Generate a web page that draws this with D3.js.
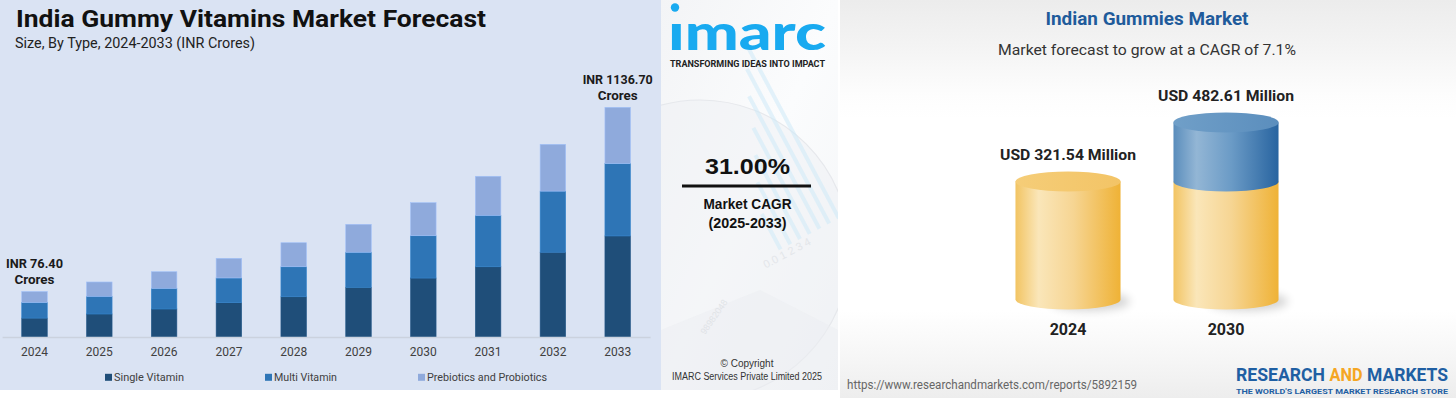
<!DOCTYPE html>
<html>
<head>
<meta charset="utf-8">
<script src="https://cdn.jsdelivr.net/npm/d3@7"></script>
<style>
  html, body { margin: 0; padding: 0; background: #ffffff; }
  svg { display: block; }
</style>
</head>
<body>
<svg id="chart" width="1456" height="398"></svg>
<script>
// ---------------- DATA ----------------
// Left chart: India Gummy Vitamins Market (INR Crores), by type
const years = ["2024", "2025", "2026", "2027", "2028", "2029", "2030", "2031", "2032", "2033"];
const seriesNames = ["Single Vitamin", "Multi Vitamin", "Prebiotics and Probiotics"];
const singleVitamin = [31.8, 43.9, 59.9, 83.1, 110.0, 153.0, 204.0, 273.9, 373.2, 500.1];
const multiVitamin  = [26.3, 33.8, 44.3, 59.9, 82.0, 107.9, 146.4, 200.6, 268.9, 358.1];
const prebiotics    = [18.3, 27.3, 35.5, 47.7, 65.7, 86.0, 114.3, 152.3, 206.1, 278.5];
const endLabels = [
  { year: "2024", lines: ["INR 76.40", "Crores"] },
  { year: "2033", lines: ["INR 1136.70", "Crores"] }
];
const cagrValue = "31.00%";
const cagrLines = ["Market CAGR", "(2025-2033)"];

// Right chart: Indian Gummies Market (USD Million)
const cylYears = ["2024", "2030"];
const cylValues = [321.54, 482.61];
const cylLabels = ["USD 321.54 Million", "USD 482.61 Million"];

// ---------------- DRAW ----------------
const svg = d3.select("#chart");
const defs = svg.append("defs");

// ===== Left panel =====
svg.append("rect").attr("x", 0).attr("y", 0).attr("width", 661).attr("height", 390).attr("fill", "#dae3f3");

svg.append("text").attr("x", 16).attr("y", 26.5)
  .attr("font-family", "Roboto, 'Liberation Sans', sans-serif").attr("font-weight", 700)
  .attr("font-size", 23.5).attr("fill", "#111")
  .attr("textLength", 470).attr("lengthAdjust", "spacingAndGlyphs")
  .text("India Gummy Vitamins Market Forecast");
svg.append("text").attr("x", 15).attr("y", 48.3)
  .attr("font-family", "Roboto, 'Liberation Sans', sans-serif")
  .attr("font-size", 14).attr("fill", "#222")
  .attr("textLength", 240).attr("lengthAdjust", "spacingAndGlyphs")
  .text("Size, By Type, 2024-2033 (INR Crores)");

const baseline = 337;
const colors = ["#1f4e79", "#2e75b6", "#8faadc"];
const rows = years.map((y, i) => ({
  year: y,
  [seriesNames[0]]: singleVitamin[i],
  [seriesNames[1]]: multiVitamin[i],
  [seriesNames[2]]: prebiotics[i]
}));
const totals = rows.map(r => seriesNames.reduce((s, k) => s + r[k], 0));
const maxTotal = d3.max(totals);

const x = d3.scaleBand().domain(years).range([2.1, 650.1]).paddingInner(0.606).paddingOuter(0.303);
// bar height scale (the original uses an illustrative, compressed height scale)
const hScale = d3.scalePow().exponent(0.6).domain([0, maxTotal]).range([0, 229.7]);
const totalByYear = new Map(years.map((y, i) => [y, totals[i]]));
const yFor = (year, v) => {
  const T = totalByYear.get(year);
  return d3.scaleLinear().domain([0, T]).range([baseline, baseline - hScale(T)])(v);
};

const stacked = d3.stack().keys(seriesNames)(rows);
const barsG = svg.append("g");
stacked.forEach((layer, li) => {
  barsG.selectAll(null).data(layer).join("rect")
    .attr("x", d => x(d.data.year))
    .attr("width", x.bandwidth())
    .attr("y", d => yFor(d.data.year, d[1]))
    .attr("height", d => yFor(d.data.year, d[0]) - yFor(d.data.year, d[1]))
    .attr("fill", colors[li])
    .attr("stroke", d3.color(colors[li]).brighter(0.35))
    .attr("stroke-width", 0.6);
});

// axis
const axisG = svg.append("g").attr("transform", `translate(0,${baseline})`)
  .call(d3.axisBottom(x).tickSize(0).tickSizeOuter(0));
axisG.select(".domain").attr("stroke", "#cbd2de").attr("stroke-width", 1.5);
axisG.selectAll("text")
  .attr("y", 14.7).attr("dy", "0.35em")
  .attr("font-family", "Roboto, 'Liberation Sans', sans-serif")
  .attr("font-size", 12).attr("fill", "#404040");

// end labels
endLabels.forEach(l => {
  const cx = x(l.year) + x.bandwidth() / 2;
  const top = yFor(l.year, totalByYear.get(l.year));
  l.lines.forEach((t, j) => {
    svg.append("text").attr("x", cx).attr("y", top - 27.8 + j * 15.5).attr("dy", "0.35em")
      .attr("text-anchor", "middle")
      .attr("font-family", "Roboto, 'Liberation Sans', sans-serif").attr("font-weight", 700)
      .attr("font-size", 13).attr("fill", "#1a1a1a")
      .attr("textLength", j === 0 ? (l.year === "2024" ? 57 : 70) : 40)
      .attr("lengthAdjust", "spacingAndGlyphs")
      .text(t);
  });
});

// legend
const legendItems = [
  { sx: 105, tx: 114, w: 70 },
  { sx: 265, tx: 274, w: 63 },
  { sx: 418, tx: 427, w: 120 }
];
seriesNames.forEach((n, i) => {
  const it = legendItems[i];
  svg.append("rect").attr("x", it.sx).attr("y", 373.8).attr("width", 7).attr("height", 7).attr("fill", colors[i]);
  svg.append("text").attr("x", it.tx).attr("y", 377.3).attr("dy", "0.35em")
    .attr("font-family", "Roboto, 'Liberation Sans', sans-serif")
    .attr("font-size", 11).attr("fill", "#404040")
    .attr("textLength", it.w).attr("lengthAdjust", "spacingAndGlyphs")
    .text(n);
});

// ===== IMARC middle panel =====
const imG = defs.append("linearGradient").attr("id", "imBg").attr("x1", 0).attr("y1", 0).attr("x2", 1).attr("y2", 1);
imG.append("stop").attr("offset", "0%").attr("stop-color", "#f3f4f6");
imG.append("stop").attr("offset", "50%").attr("stop-color", "#fbfcfd");
imG.append("stop").attr("offset", "100%").attr("stop-color", "#f3f5f7");
svg.append("rect").attr("x", 661).attr("y", 0).attr("width", 177).attr("height", 390).attr("fill", "url(#imBg)");

const clip = defs.append("clipPath").attr("id", "imClip");
clip.append("rect").attr("x", 661).attr("y", 0).attr("width", 177).attr("height", 390);
const deco = svg.append("g").attr("clip-path", "url(#imClip)");
deco.append("circle").attr("cx", 700).attr("cy", 250).attr("r", 150)
  .attr("fill", "#eef0f3").attr("fill-opacity", 0.5).attr("stroke", "#e6e8ec").attr("stroke-width", 1.2);
deco.append("path").attr("d", "M661,330 L760,290 L838,330 L838,390 L661,390 Z").attr("fill", "#eceef1").attr("opacity", 0.5);
const barDeco = deco.append("g").attr("transform", "translate(770,255) rotate(-28)");
[40, 70, 95, 120, 150, 175, 200].forEach((h, i) => {
  barDeco.append("rect").attr("x", 10 + i * 11).attr("y", -h).attr("width", 4).attr("height", h)
    .attr("fill", "#cdeaf8").attr("opacity", 0.55);
});
barDeco.append("text").attr("x", -10).attr("y", 10).attr("font-family", "'Liberation Sans', sans-serif")
  .attr("font-size", 11).attr("fill", "#e3e6ea").text("0.0   1  2  3  4");
deco.append("text").attr("transform", "translate(705,335) rotate(-55)").attr("font-family", "'Liberation Sans', sans-serif")
  .attr("font-size", 9).attr("fill", "#e0e3e7").text("98982048");

// imarc logo
svg.append("circle").attr("cx", 675).attr("cy", 7.5).attr("r", 4.2).attr("fill", "#19aaf0");
svg.append("text").attr("x", 668).attr("y", 50)
  .attr("font-family", "Lato, 'Open Sans', sans-serif").attr("font-weight", 900)
  .attr("font-size", 50).attr("fill", "#19aaf0")
  .attr("textLength", 158).attr("lengthAdjust", "spacingAndGlyphs")
  .text("\u0131marc");
svg.append("text").attr("x", 670).attr("y", 64.3).attr("dy", "0.35em")
  .attr("font-family", "Roboto, 'Liberation Sans', sans-serif").attr("font-weight", 700)
  .attr("font-size", 8.5).attr("fill", "#222")
  .attr("textLength", 155).attr("lengthAdjust", "spacingAndGlyphs")
  .text("TRANSFORMING IDEAS INTO IMPACT");

svg.append("text").attr("x", 747.5).attr("y", 166.7).attr("dy", "0.35em").attr("text-anchor", "middle")
  .attr("font-family", "'Liberation Sans', Arial, sans-serif").attr("font-weight", 700)
  .attr("font-size", 22).attr("fill", "#111")
  .attr("textLength", 85).attr("lengthAdjust", "spacingAndGlyphs")
  .text(cagrValue);
svg.append("line").attr("x1", 682).attr("x2", 811).attr("y1", 186).attr("y2", 186)
  .attr("stroke", "#111").attr("stroke-width", 3);
cagrLines.forEach((t, j) => {
  svg.append("text").attr("x", 747.5).attr("y", 204.3 + j * 19).attr("dy", "0.35em").attr("text-anchor", "middle")
    .attr("font-family", "'Liberation Sans', Arial, sans-serif").attr("font-weight", 700)
    .attr("font-size", 14).attr("fill", "#111")
    .attr("textLength", j === 0 ? 88 : 78).attr("lengthAdjust", "spacingAndGlyphs")
    .text(t);
});
svg.append("text").attr("x", 747).attr("y", 363).attr("dy", "0.35em").attr("text-anchor", "middle")
  .attr("font-family", "'Liberation Sans', Arial, sans-serif").attr("font-size", 10).attr("fill", "#333")
  .text("\u00A9 Copyright");
svg.append("text").attr("x", 747).attr("y", 376.7).attr("dy", "0.35em").attr("text-anchor", "middle")
  .attr("font-family", "'Liberation Sans', Arial, sans-serif").attr("font-size", 10).attr("fill", "#333")
  .attr("textLength", 150).attr("lengthAdjust", "spacingAndGlyphs")
  .text("IMARC Services Private Limited 2025");

// ===== Right panel =====
const rBg = defs.append("linearGradient").attr("id", "rBg").attr("x1", 0).attr("y1", 0).attr("x2", 0).attr("y2", 1);
[["0%", "#ececec"], ["12%", "#f4f4f4"], ["24%", "#fdfdfd"], ["30%", "#ffffff"], ["78%", "#ffffff"], ["90%", "#f6f6f6"], ["100%", "#ededed"]]
  .forEach(s => rBg.append("stop").attr("offset", s[0]).attr("stop-color", s[1]));
svg.append("rect").attr("x", 840).attr("y", 0).attr("width", 616).attr("height", 398).attr("fill", "url(#rBg)");

svg.append("text").attr("x", 1147).attr("y", 19.3).attr("dy", "0.35em").attr("text-anchor", "middle")
  .attr("font-family", "Roboto, sans-serif").attr("font-weight", 700)
  .attr("font-size", 17.5).attr("fill", "#1f5b9b")
  .attr("textLength", 203).attr("lengthAdjust", "spacingAndGlyphs")
  .text("Indian Gummies Market");
svg.append("text").attr("x", 1147).attr("y", 50).attr("dy", "0.35em").attr("text-anchor", "middle")
  .attr("font-family", "Roboto, sans-serif")
  .attr("font-size", 15).attr("fill", "#333")
  .attr("textLength", 298).attr("lengthAdjust", "spacingAndGlyphs")
  .text("Market forecast to grow at a CAGR of 7.1%");

// gradients for cylinders
function hGrad(id, stops) {
  const g = defs.append("linearGradient").attr("id", id).attr("x1", 0).attr("y1", 0).attr("x2", 1).attr("y2", 0);
  stops.forEach(s => g.append("stop").attr("offset", s[0]).attr("stop-color", s[1]));
}
hGrad("yelBody", [["0%", "#f2c462"], ["22%", "#fae6b9"], ["55%", "#f6d593"], ["100%", "#efb236"]]);
hGrad("yelTop", [["0%", "#f5cd78"], ["100%", "#f3c466"]]);
hGrad("bluBody", [["0%", "#5a8dbc"], ["22%", "#93b6d5"], ["55%", "#6b9bc6"], ["100%", "#2864a0"]]);
hGrad("bluTop", [["0%", "#709fc8"], ["100%", "#5b8ebd"]]);
const blur = defs.append("filter").attr("id", "shadowBlur").attr("x", "-50%").attr("y", "-100%").attr("width", "200%").attr("height", "300%");
blur.append("feGaussianBlur").attr("stdDeviation", 5);

const cx = d3.scaleBand().domain(cylYears).range([989, 1305]).paddingInner(0.335).paddingOuter(0.1675);
const cy = d3.scaleLinear().domain([0, d3.max(cylValues)]).range([299.5, 122.4]);
const rx = cx.bandwidth() / 2, ry = 10;

// segments: 2024 = [0, v2024]; 2030 = [0, v2024] (yellow) + [v2024, v2030] (blue)
const cylSegs = [];
cylYears.forEach((yr, i) => {
  const base = cylValues[0];
  if (i === 0) cylSegs.push({ year: yr, v0: 0, v1: cylValues[i], kind: "yel", top: true });
  else {
    cylSegs.push({ year: yr, v0: 0, v1: base, kind: "yel", top: false });
    cylSegs.push({ year: yr, v0: base, v1: cylValues[i], kind: "blu", top: true });
  }
});

const cylG = svg.append("g");
cylYears.forEach(yr => {
  cylG.append("ellipse").attr("cx", cx(yr) + rx + 22).attr("cy", cy(0) + 2).attr("rx", 40).attr("ry", 9)
    .attr("fill", "#000").attr("opacity", 0.18).attr("filter", "url(#shadowBlur)");
});
cylSegs.forEach(s => {
  const L = cx(s.year), R = L + 2 * rx;
  const yb = cy(s.v0), yt = cy(s.v1);
  const d = `M${L},${yt} L${L},${yb} A${rx},${ry} 0 0 0 ${R},${yb} L${R},${yt} Z`;
  cylG.append("path").attr("d", d).attr("fill", `url(#${s.kind}Body)`);
  if (s.top) {
    cylG.append("ellipse").attr("cx", L + rx).attr("cy", yt).attr("rx", rx).attr("ry", ry)
      .attr("fill", `url(#${s.kind}Top)`);
  }
});
cylYears.forEach((yr, i) => {
  svg.append("text").attr("x", cx(yr) + rx).attr("y", cy(cylValues[i]) - 26.5).attr("dy", "0.35em")
    .attr("text-anchor", "middle")
    .attr("font-family", "Roboto, sans-serif").attr("font-weight", 700)
    .attr("font-size", 15.5).attr("fill", "#222")
    .attr("textLength", 136).attr("lengthAdjust", "spacingAndGlyphs")
    .text(cylLabels[i]);
  svg.append("text").attr("x", cx(yr) + rx).attr("y", 329).attr("dy", "0.35em")
    .attr("text-anchor", "middle")
    .attr("font-family", "Roboto, sans-serif").attr("font-weight", 700)
    .attr("font-size", 16).attr("fill", "#222")
    .text(yr);
});

svg.append("text").attr("x", 847).attr("y", 385).attr("dy", "0.35em")
  .attr("font-family", "Roboto, sans-serif").attr("font-size", 12.5).attr("fill", "#666")
  .attr("textLength", 290).attr("lengthAdjust", "spacingAndGlyphs")
  .text("https://www.researchandmarkets.com/reports/5892159");

// logo words as separate texts
[
  { t: "RESEARCH", x0: 1236, w: 89, c: "#1f5fa3" },
  { t: "AND", x0: 1329.5, w: 33, c: "#f5a623" },
  { t: "MARKETS", x0: 1367, w: 81, c: "#1f5fa3" }
].forEach(wd => {
  svg.append("text").attr("x", wd.x0).attr("y", 375).attr("dy", "0.35em")
    .attr("font-family", "Roboto, sans-serif").attr("font-weight", 700)
    .attr("font-size", 18.5).attr("fill", wd.c)
    .attr("textLength", wd.w).attr("lengthAdjust", "spacingAndGlyphs")
    .text(wd.t);
});
svg.append("text").attr("x", 1236).attr("y", 391).attr("dy", "0.35em")
  .attr("font-family", "Roboto, sans-serif").attr("font-weight", 700)
  .attr("font-size", 7.5).attr("fill", "#1f5fa3")
  .attr("textLength", 212).attr("lengthAdjust", "spacingAndGlyphs")
  .text("THE WORLD'S LARGEST MARKET RESEARCH STORE");
</script>
</body>
</html>
